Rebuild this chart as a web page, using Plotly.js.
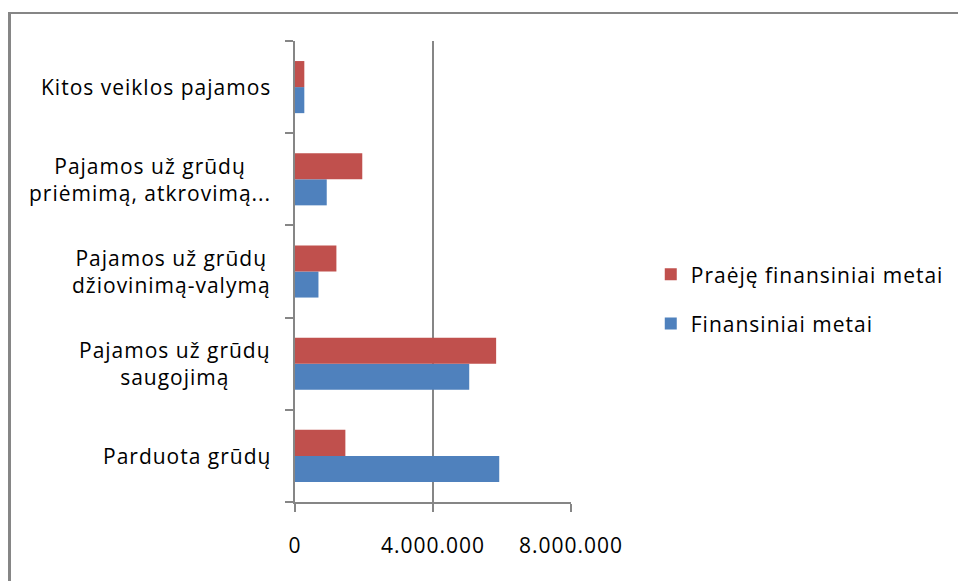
<!DOCTYPE html>
<html>
<head>
<meta charset="utf-8">
<script src="https://cdn.plot.ly/plotly-3.0.1.min.js"></script>
<style>
html,body{margin:0;padding:0;background:#fff;}
#wrap{position:relative;width:958px;height:581px;overflow:hidden;}
#chart{position:absolute;left:0;top:0;width:958px;height:581px;}
#frame{position:absolute;left:8px;top:12px;width:960px;height:600px;border-top:2px solid #868686;border-left:3px solid #868686;pointer-events:none;}
text{letter-spacing:1px;}
</style>
</head>
<body>
<div id="wrap"><div id="chart"></div><div id="frame"></div></div>
<script>
// Categories (bottom to top as drawn)
var categories = [
  "Parduota grūdų",
  "Pajamos už grūdų<br>saugojimą",
  "Pajamos už grūdų<br>džiovinimą-valymą",
  "Pajamos už grūdų<br>priėmimą, atkrovimą...",
  "Kitos veiklos pajamos"
];
var seriesNames = ["Finansiniai metai", "Praėję finansiniai metai"];
var currentYear = [5920000, 5050000, 680000, 920000, 270000];
var previousYear = [1460000, 5830000, 1200000, 1950000, 270000];
var xTickVals = [0, 4000000, 8000000];
var xTickText = ["0", "4.000.000", "8.000.000"];

var FONT = "'Open Sans', sans-serif";
var FS = 21;
var gray = "#868686";

var traces = [
  {type: "bar", orientation: "h", name: seriesNames[0], y: categories, x: currentYear,
   marker: {color: "#4F81BD"}, legendgroup: "a", legendrank: 2, hoverinfo: "x+name"},
  {type: "bar", orientation: "h", name: seriesNames[1], y: categories, x: previousYear,
   marker: {color: "#C0504D"}, legendgroup: "b", legendrank: 1, hoverinfo: "x+name"}
];

var annotations = categories.map(function(c){
  return {xref: "paper", yref: "y", x: -0.08, y: c, text: c, showarrow: false,
          xanchor: "right", yanchor: "middle", align: "center",
          font: {family: FONT, size: FS, color: "#000"}};
});

var layout = {
  width: 958, height: 581,
  margin: {l: 295, r: 387, t: 41, b: 79, pad: 0, autoexpand: false},
  paper_bgcolor: "#fff", plot_bgcolor: "#fff",
  barmode: "group", bargap: 0.435, bargroupgap: 0,
  showlegend: true,
  legend: {x: 1.289, xanchor: "left", y: 0.44, yanchor: "middle",
           traceorder: "grouped", tracegroupgap: 19,
           font: {family: FONT, size: FS, color: "#000"}, bgcolor: "rgba(0,0,0,0)"},
  xaxis: {range: [0, 8000000], tickmode: "array", tickvals: xTickVals, ticktext: xTickText,
          showgrid: true, gridcolor: gray, gridwidth: 2, zeroline: false,
          showline: true, linecolor: gray, linewidth: 2,
          ticks: "outside", ticklen: 8, tickwidth: 2, tickcolor: gray,
          ticklabelstandoff: 16, automargin: false,
          tickfont: {family: FONT, size: FS, color: "#000"}, fixedrange: true},
  yaxis: {type: "category", categoryorder: "array", categoryarray: categories,
          showticklabels: false, showgrid: false, zeroline: false,
          showline: true, linecolor: gray, linewidth: 2, automargin: false,
          ticks: "outside", tickson: "boundaries", ticklen: 8, tickwidth: 2, tickcolor: gray,
          fixedrange: true},
  annotations: annotations,
  font: {family: FONT, size: FS, color: "#000"}
};

Plotly.newPlot("chart", traces, layout, {displayModeBar: false, staticPlot: true});
</script>
</body>
</html>
